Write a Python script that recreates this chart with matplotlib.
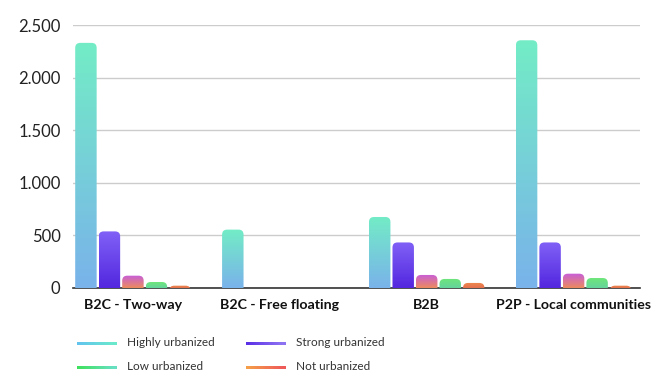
import numpy as np
import matplotlib.pyplot as plt
from matplotlib.patches import FancyBboxPatch
from matplotlib.collections import LineCollection
from matplotlib.colors import LinearSegmentedColormap, to_rgb

plt.rcParams['font.family'] = ['Lato', 'DejaVu Sans']

categories = ['B2C - Two-way', 'B2C - Free floating', 'B2B', 'P2P - Local communities']
highly = [2330, 555, 675, 2355]
strong = [538, 0, 433, 433]
mixed = [117, 0, 124, 136]
low = [57, 0, 86, 95]
not_urb = [22, 0, 48, 22]
series = [highly, strong, mixed, low, not_urb]

# top colour, bottom colour of each bar
bar_grads = [('#73ecc6', '#79b3ea'),
             ('#8061f6', '#5327df'),
             ('#c75ddb', '#ec8a5e'),
             ('#6fe67a', '#64d49c'),
             ('#ee8a4c', '#e4704e')]

legend_names = ['Highly urbanized', 'Strong urbanized', 'Low urbanized', 'Not urbanized']
# left colour, right colour of legend lines
legend_grads = [('#62c3ee', '#6ae8cc'),
                ('#5a2ee6', '#8d73f2'),
                ('#3fe05c', '#66e0c0'),
                ('#f5a048', '#ee5a58')]

W, H = 652, 376
fig = plt.figure(figsize=(W / 100, H / 100), dpi=100)
ax = fig.add_axes([73 / W, 88 / H, 567 / W, 263 / H])
x0, x1 = -0.408, 3.452
ax.set_xlim(x0, x1)
ax.set_ylim(0, 2500)

pitch = 0.16
width = 0.146
ux = (x1 - x0) / 567      # data units per pixel, x
uy = 2500 / 263           # data units per pixel, y
r = 5 * ux

grad = np.linspace(0, 1, 64).reshape(-1, 1)
for i, vals in enumerate(series):
    cmap = LinearSegmentedColormap.from_list('g%d' % i, [bar_grads[i][1], bar_grads[i][0]])
    for j, v in enumerate(vals):
        if v <= 0:
            continue
        left = j + (i - 2) * pitch - width / 2
        patch = FancyBboxPatch((left, -30 * uy), width, v + 30 * uy,
                               boxstyle='round,pad=0,rounding_size=%f' % r,
                               mutation_aspect=uy / ux,
                               facecolor='none', edgecolor='none')
        ax.add_patch(patch)
        im = ax.imshow(grad, cmap=cmap, origin='lower', aspect='auto',
                       extent=(left, left + width, 0, v), zorder=3)
        im.set_clip_path(patch)
ax.set_xlim(x0, x1)
ax.set_ylim(0, 2500)

ax.set_yticks(np.arange(0, 2501, 500))
ax.set_yticklabels(['{:,}'.format(t).replace(',', '.') for t in range(0, 2501, 500)],
                   fontsize=12, color='#222222')
ax.set_xticks(range(len(categories)))
ax.set_xticklabels(categories, fontsize=10.2, fontweight='bold', color='#111111')
ax.tick_params(axis='both', length=0)
ax.tick_params(axis='y', pad=9)
ax.tick_params(axis='x', pad=8)

ax.grid(axis='y', color='#cccccc', linewidth=1)
ax.set_axisbelow(True)
for s in ['left', 'right', 'top']:
    ax.spines[s].set_visible(False)
ax.spines['bottom'].set_color('#333333')
ax.spines['bottom'].set_linewidth(1.2)

# legend drawn in figure pixels
pos = [(78, 343), (247, 343), (78, 367), (247, 367)]
for k, name in enumerate(legend_names):
    lx, ly = pos[k]
    xs = np.linspace(lx, lx + 37, 30)
    segs = [[(xs[m] / W, 1 - ly / H), (xs[m + 1] / W, 1 - ly / H)] for m in range(len(xs) - 1)]
    c0, c1 = np.array(to_rgb(legend_grads[k][0])), np.array(to_rgb(legend_grads[k][1]))
    cols = [c0 + (c1 - c0) * t for t in np.linspace(0, 1, len(segs))]
    lc = LineCollection(segs, colors=cols, linewidths=1.8, capstyle='projecting',
                        antialiaseds=False, transform=fig.transFigure)
    fig.add_artist(lc)
    fig.text((lx + 49) / W, 1 - ly / H, name, fontsize=8.5, color='#333333',
             va='center', ha='left')

fig.savefig('out.png', dpi=100, facecolor='white')
